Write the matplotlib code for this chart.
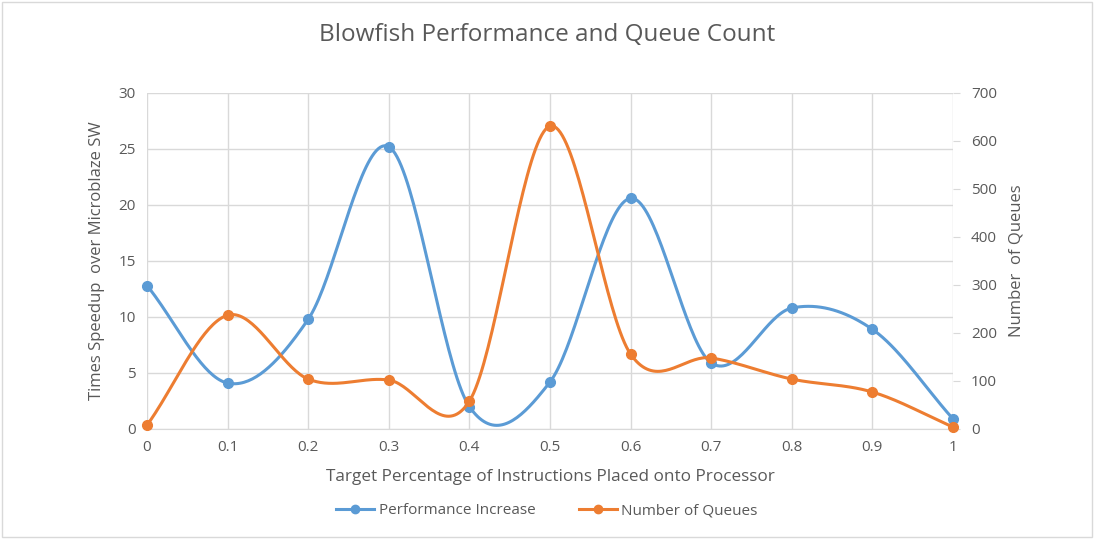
import numpy as np
import matplotlib
matplotlib.use("Agg")
import matplotlib.pyplot as plt
from matplotlib.lines import Line2D

x_vals = [0, 0.1, 0.2, 0.3, 0.4, 0.5, 0.6, 0.7, 0.8, 0.9, 1]
x_labels = ["0", "0.1", "0.2", "0.3", "0.4", "0.5", "0.6", "0.7", "0.8", "0.9", "1"]
performance = [12.8, 4.1, 9.8, 25.2, 2.0, 4.2, 20.6, 5.9, 10.8, 8.9, 0.9]
queues = [8, 237, 104, 102, 58, 631, 156, 148, 104, 77, 4]

BLUE = "#5B9BD5"
ORANGE = "#ED7D31"
TXT = "#595959"
GRID = "#D9D9D9"
plt.rcParams['font.family'] = ['Open Sans', 'DejaVu Sans']


def smooth(xs, ys, n=40):
    xs = np.asarray(xs, float)
    ys = np.asarray(ys, float)
    px = np.concatenate([[2 * xs[0] - xs[1]], xs, [2 * xs[-1] - xs[-2]]])
    py = np.concatenate([[ys[0]], ys, [ys[-1]]])
    outx, outy = [], []
    t = np.linspace(0, 1, n)
    for i in range(1, len(px) - 2):
        p0x, p1x, p2x, p3x = px[i - 1:i + 3]
        p0y, p1y, p2y, p3y = py[i - 1:i + 3]
        if i == 1:
            p0y = p1y - (p2y - p1y)
        if i == len(px) - 3:
            p3y = p2y + (p2y - p1y)
        c1x = p1x + (p2x - p0x) / 6
        c1y = p1y + (p2y - p0y) / 6
        c2x = p2x - (p3x - p1x) / 6
        c2y = p2y - (p3y - p1y) / 6
        bx = (1 - t) ** 3 * p1x + 3 * (1 - t) ** 2 * t * c1x + 3 * (1 - t) * t ** 2 * c2x + t ** 3 * p2x
        by = (1 - t) ** 3 * p1y + 3 * (1 - t) ** 2 * t * c1y + 3 * (1 - t) * t ** 2 * c2y + t ** 3 * p2y
        outx.extend(bx)
        outy.extend(by)
    return np.array(outx), np.array(outy)


fig = plt.figure(figsize=(10.94, 5.39), dpi=100)
fig.patch.set_facecolor("white")
border = plt.Rectangle((0.002, 0.004), 0.996, 0.992, transform=fig.transFigure,
                       fill=False, edgecolor="#D9D9D9", linewidth=1)
fig.add_artist(border)

ax = fig.add_axes([147 / 1094, 1 - 429 / 539, (953 - 147) / 1094, (429 - 93) / 539])
ax2 = ax.twinx()

sx, sy = smooth(x_vals, performance)
ax.plot(sx, sy, color=BLUE, linewidth=2.2, zorder=3)
ax.plot(x_vals, performance, "o", color=BLUE, markersize=7, zorder=4, clip_on=False)
sx2, sy2 = smooth(x_vals, queues)
ax2.plot(sx2, sy2, color=ORANGE, linewidth=2.2, zorder=3)
ax2.plot(x_vals, queues, "o", color=ORANGE, markersize=7, zorder=4, clip_on=False)

ax.set_xlim(0, 1)
ax.set_ylim(0, 30)
ax2.set_ylim(0, 700)
ax.set_xticks(x_vals)
ax.set_xticklabels(x_labels)
ax.set_yticks(np.arange(0, 31, 5))
ax2.set_yticks(np.arange(0, 701, 100))

ax.grid(True, color=GRID, linewidth=1)
ax.set_axisbelow(True)
for a in (ax, ax2):
    for s in a.spines.values():
        s.set_visible(False)
ax.spines["bottom"].set_visible(True)
ax.spines["bottom"].set_color(GRID)
ax.tick_params(axis="both", length=0, colors=TXT, labelsize=11, pad=8)
ax2.tick_params(axis="y", length=5, colors=TXT, labelsize=11, pad=8)
ax2.tick_params(axis="y", color=GRID)

ax.set_ylabel("Times Speedup  over Microblaze SW", color=TXT, fontsize=12, labelpad=10)
ax2.set_ylabel("Number  of Queues", color=TXT, fontsize=12, labelpad=8)
ax.set_xlabel("Target Percentage of Instructions Placed onto Processor", color=TXT, fontsize=12.3, labelpad=10)
fig.text(0.5, 1 - 35 / 539, "Blowfish Performance and Queue Count", ha="center", va="center",
         color=TXT, fontsize=17.5)

handles = [Line2D([], [], color=BLUE, marker="o", linewidth=2.2, markersize=6),
           Line2D([], [], color=ORANGE, marker="o", linewidth=2.2, markersize=6)]
leg = fig.legend(handles, ["Performance Increase", "Number of Queues"], loc="center",
                 bbox_to_anchor=(0.5, 1 - 511 / 539), ncol=2, frameon=False,
                 fontsize=11, handlelength=2.5, columnspacing=2.8, handletextpad=0.3)
for t in leg.get_texts():
    t.set_color(TXT)

fig.savefig("out.png", dpi=100)
